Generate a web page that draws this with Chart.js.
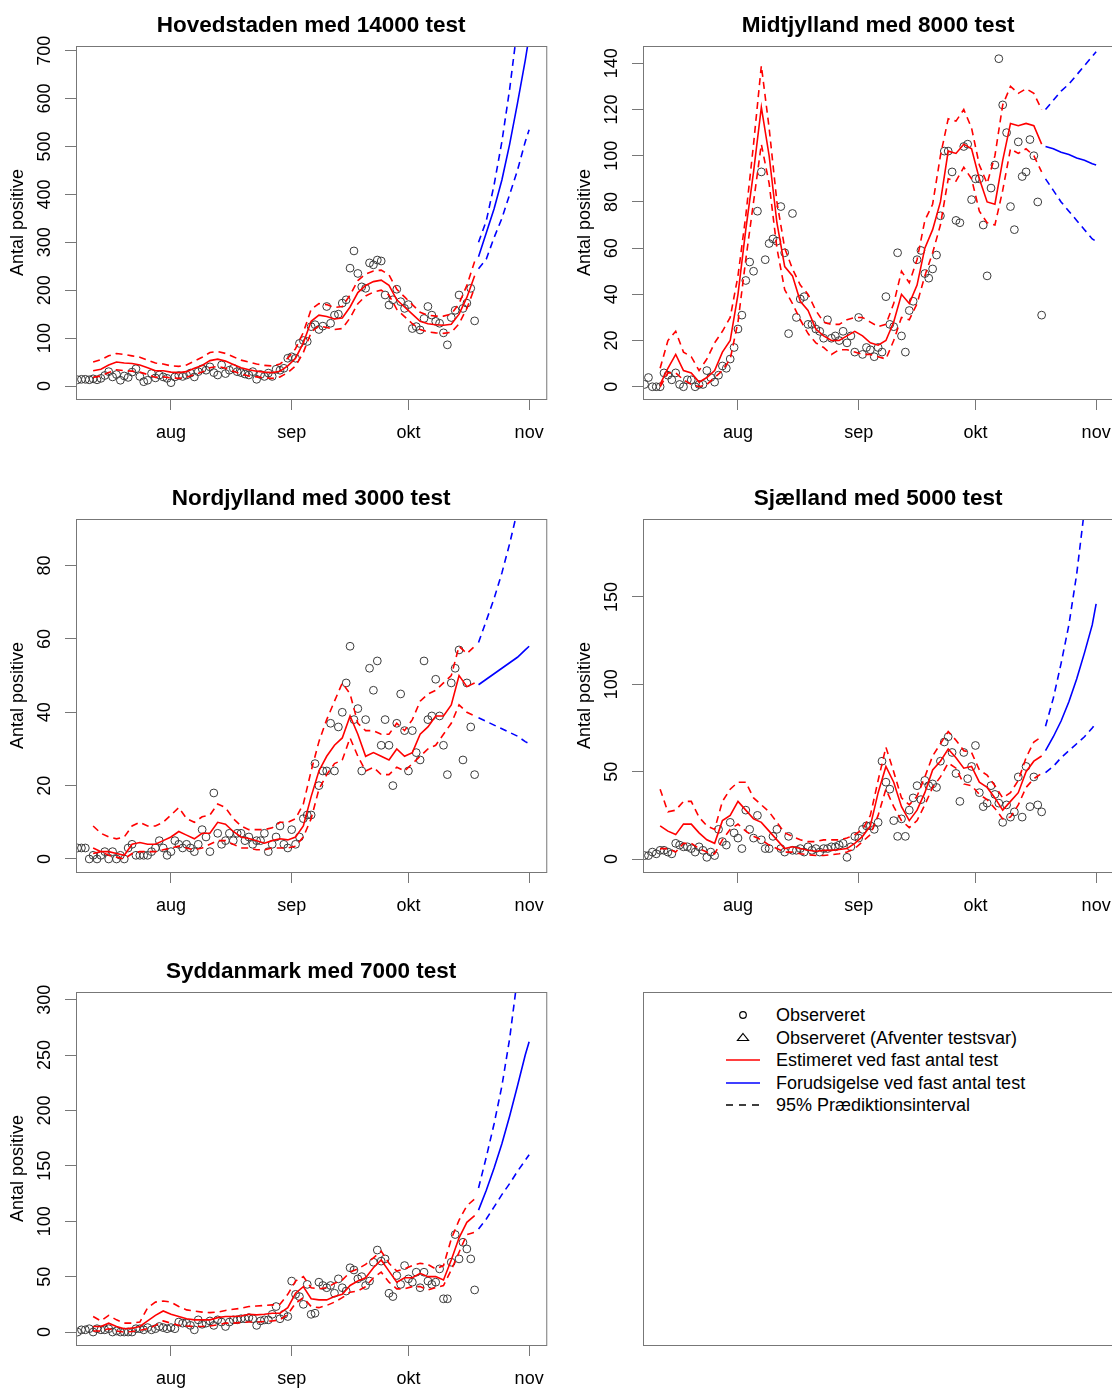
<!DOCTYPE html>
<html>
<head>
<meta charset="utf-8">
<script src="https://cdn.jsdelivr.net/npm/chart.js"></script>
<style>
  html, body { margin: 0; padding: 0; background: #fff; }
  body { position: relative; width: 1112px; height: 1388px; overflow: hidden; font-family: 'Liberation Sans', Arial, sans-serif; }
  canvas { position: absolute; }
  #legendBox { position: absolute; left: 643px; top: 992px; width: 480px; height: 354px; border: 1px solid #777; box-sizing: border-box; }
  .lg-row { position: absolute; left: 0; height: 22px; }
  .lg-row svg { position: absolute; left: 81px; top: 0; }
  .lg-row span { position: absolute; left: 132px; top: 0; font-size: 18px; line-height: 22px; white-space: nowrap; color: #000; }
</style>
</head>
<body>

<canvas id="hoved" width="556" height="473" style="left:0;top:0"></canvas>
<canvas id="midt" width="556" height="473" style="left:567px;top:0"></canvas>
<canvas id="nord" width="556" height="473" style="left:0;top:473px"></canvas>
<canvas id="sjael" width="556" height="473" style="left:567px;top:473px"></canvas>
<canvas id="sydd" width="556" height="473" style="left:0;top:946px"></canvas>

<div id="legendBox">
  <div class="lg-row" style="top:11px">
    <svg width="36" height="22"><circle cx="18" cy="11" r="3.3" fill="none" stroke="#000" stroke-width="1.2"/></svg>
    <span>Observeret</span>
  </div>
  <div class="lg-row" style="top:34px">
    <svg width="36" height="22"><polygon points="18,6.5 23.5,13.5 12.5,13.5" fill="none" stroke="#000" stroke-width="1.2"/></svg>
    <span>Observeret (Afventer testsvar)</span>
  </div>
  <div class="lg-row" style="top:56px">
    <svg width="36" height="22"><line x1="1" y1="11" x2="35" y2="11" stroke="#ff0000" stroke-width="1.5"/></svg>
    <span>Estimeret ved fast antal test</span>
  </div>
  <div class="lg-row" style="top:79px">
    <svg width="36" height="22"><line x1="1" y1="11" x2="35" y2="11" stroke="#0000ff" stroke-width="1.5"/></svg>
    <span>Forudsigelse ved fast antal test</span>
  </div>
  <div class="lg-row" style="top:101px">
    <svg width="36" height="22"><line x1="1" y1="11" x2="35" y2="11" stroke="#000" stroke-width="1.3" stroke-dasharray="7 6"/></svg>
    <span>95% Prædiktionsinterval</span>
  </div>
</div>

<script>
/* ---------------- AXES / DAYS ---------------- */
// days counted from 1 aug (day 0)

const obsStart = -24; // first observation, 8 jul; one point per day up to day 78
const estDays = [-20, -18, -16, -14, -12, -10, -8, -6, -4, -2,
  0, 2, 4, 6, 8, 10, 12, 14, 16, 18,
  20, 22, 24, 26, 28, 30, 32, 34, 36, 38,
  40, 42, 44, 46, 48, 50, 52, 54, 56, 58,
  60, 62, 64, 66, 68, 70, 72, 74, 76, 78];
const predDays = [79, 81, 83, 85, 87, 89, 91, 92];

const monthDays = [0, 31, 61, 92];
const monthLabels = ["aug", "sep", "okt", "nov"];

/* ---------------- HOVEDSTADEN ---------------- */

const hovedObs = [13, 14, 14, 13, 15, 13, 16, 22, 30, 19,
  24, 12, 21, 18, 29, 36, 20, 9, 12, 26,
  17, 23, 19, 16, 7, 19, 22, 20, 23, 27,
  19, 30, 36, 33, 40, 28, 23, 44, 26, 33,
  37, 30, 28, 25, 23, 30, 14, 24, 20, 27,
  20, 35, 33, 37, 58, 61, 58, 89, 95, 93,
  124, 128, 118, 125, 166, 131, 148, 150, 173, 180,
  246, 282, 235, 207, 204, 257, 253, 263, 261, 190,
  169, 180, 202, 176, 162, 170, 120, 124, 117, 141,
  166, 148, 135, 131, 111, 86, 143, 158, 190, 162,
  173, 204, 136];
const hovedEst = [32, 35, 44, 50, 48, 47, 44, 38, 32, 32,
  29, 28, 30, 37, 43, 53, 56, 52, 45, 38,
  34, 31, 29, 28, 31, 42, 58, 90, 135, 148,
  145, 140, 142, 165, 195, 210, 218, 221, 210, 180,
  165, 150, 135, 130, 128, 127, 129, 150, 185, 230];
const hovedHi = [50, 55, 63, 68, 66, 63, 60, 54, 48, 46,
  42, 41, 44, 52, 60, 70, 72, 68, 61, 54,
  50, 46, 43, 42, 46, 58, 78, 112, 160, 172,
  170, 164, 166, 190, 220, 234, 240, 242, 232, 202,
  186, 170, 154, 148, 146, 146, 150, 172, 210, 260];
const hovedLo = [18, 21, 28, 34, 32, 31, 29, 24, 18, 19,
  17, 16, 18, 24, 29, 38, 41, 37, 31, 25,
  21, 19, 17, 16, 19, 28, 42, 70, 112, 126,
  122, 118, 120, 142, 172, 188, 196, 200, 190, 160,
  145, 130, 118, 113, 111, 110, 112, 130, 162, 205];
const hovedPred = [270, 320, 370, 430, 505, 590, 680, 730];
const hovedPredHi = [300, 345, 420, 510, 620, 750, 900, 980];
const hovedPredLo = [245, 265, 310, 350, 400, 450, 510, 535];
const hovedTicks = [0, 100, 200, 300, 400, 500, 600, 700];

/* ---------------- MIDTJYLLAND ---------------- */

const midtObs = [1, 4, 0, 0, 0, 6, 5, 3, 6, 1,
  0, 3, 3, 0, 1, 1, 7, 4, 2, 5,
  9, 8, 12, 17, 25, 31, 46, 54, 50, 76,
  93, 55, 62, 64, 63, 78, 58, 23, 75, 30,
  38, 39, 27, 27, 25, 24, 21, 29, 21, 22,
  20, 24, 19, 22, 15, 30, 14, 17, 16, 13,
  17, 15, 39, 27, 26, 58, 22, 15, 33, 37,
  55, 59, 49, 47, 51, 57, 74, 102, 102, 93,
  72, 71, 104, 105, 81, 90, 90, 70, 48, 86,
  96, 142, 122, 110, 78, 68, 106, 91, 93, 107,
  100, 80, 31];
const midtEst = [1, 8, 14, 7, 6, 2, 4, 7, 15, 20,
  40, 68, 93, 121, 100, 71, 52, 48, 37, 33,
  25, 22, 20, 20, 22, 24, 22, 19, 18, 20,
  28, 40, 36, 44, 60, 68, 80, 102, 101, 105,
  103, 90, 80, 79, 98, 114, 113, 114, 113, 105];
const midtHi = [8, 20, 24, 15, 13, 7, 12, 19, 24, 30,
  48, 74, 105, 139, 112, 80, 60, 51, 44, 40,
  33, 28, 27, 27, 29, 30, 30, 28, 26, 27,
  36, 50, 45, 55, 72, 79, 100, 116, 115, 120,
  112, 96, 88, 100, 122, 130, 127, 129, 127, 120];
const midtLo = [0, 6, 6, 3, 1, 0, 1, 4, 7, 12,
  28, 55, 80, 105, 88, 60, 42, 36, 29, 23,
  19, 17, 14, 16, 16, 15, 14, 14, 13, 12,
  20, 30, 29, 36, 48, 58, 70, 90, 89, 95,
  90, 76, 71, 70, 85, 103, 101, 103, 100, 93];
const midtPred = [104, 103, 101.5, 100.5, 99, 98, 96.5, 96];
const midtPredHi = [120, 124, 128, 131, 135, 139, 143, 145];
const midtPredLo = [90, 85, 80, 76, 72, 68, 64, 63];
const midtTicks = [0, 20, 40, 60, 80, 100, 120, 140];

/* ---------------- NORDJYLLAND ---------------- */

const nordObs = [3, 3, 3, 0, 1, 0, 1, 2, 0, 2,
  0, 1, 0, 3, 4, 1, 1, 1, 1, 2,
  3, 5, 3, 1, 2, 5, 4, 3, 4, 3,
  2, 4, 8, 6, 2, 18, 7, 4, 5, 7,
  5, 7, 7, 5, 6, 4, 5, 5, 7, 2,
  4, 6, 9, 4, 3, 8, 4, 6, 11, 12,
  12, 26, 20, 24, 24, 37, 24, 36, 40, 48,
  58, 38, 41, 24, 38, 52, 46, 54, 31, 38,
  31, 20, 37, 45, 35, 24, 35, 29, 27, 54,
  38, 39, 49, 39, 31, 23, 48, 52, 57, 27,
  48, 36, 23];
const nordEst = [3, 2, 2, 1.5, 1, 4, 4.5, 4, 4, 5,
  6, 7.5, 6.5, 5.5, 7, 7, 10, 9.5, 7.5, 6,
  5.6, 5, 4.3, 5, 5.5, 5.2, 6, 9, 17, 24,
  28, 31, 33, 39, 34, 28, 29, 28, 27, 30,
  28, 29, 34, 36, 39, 39, 42, 50, 47, 48];
const nordHi = [9, 7, 6, 5.5, 6, 9, 10, 9, 9, 10,
  12, 14, 11, 10, 11.5, 12, 15, 14, 11, 9,
  8, 8, 8, 8.5, 10, 10, 11, 15, 24, 32,
  38, 43, 48, 45, 37, 35, 35, 34, 34, 37,
  35, 38, 43, 45, 46, 48, 50, 58, 56, 58];
const nordLo = [1.5, 2, 1, 0.5, 0, 1.5, 2, 2, 2, 2.5,
  3, 3.5, 3, 2.5, 3, 4, 5, 5, 4, 3,
  3, 2.5, 2.5, 3, 3, 3, 3.5, 6, 11, 19,
  23, 26, 27, 33, 28, 24, 25, 23, 23, 25,
  24, 26, 28, 30, 31, 34, 37, 42, 40, 39];
const nordPred = [47.5, 49, 50.5, 52, 53.5, 55, 57, 58];
const nordPredHi = [59, 65, 71, 78, 86, 95, 104, 109];
const nordPredLo = [38.5, 37.5, 36.5, 35.5, 34.5, 33.5, 32, 31.5];
const nordTicks = [0, 20, 40, 60, 80];

/* ---------------- SJÆLLAND ---------------- */

const sjaelObs = [2, 2, 4, 3, 5, 5, 4, 3, 9, 8,
  7, 7, 6, 4, 7, 5, 1, 4, 2, 17,
  10, 8, 21, 15, 12, 6, 28, 17, 12, 25,
  11, 6, 6, 13, 17, 6, 4, 13, 5, 5,
  6, 4, 7, 5, 6, 4, 6, 6, 7, 7,
  8, 9, 1, 7, 13, 12, 17, 19, 19, 17,
  21, 56, 44, 40, 22, 13, 23, 13, 28, 35,
  42, 34, 45, 42, 43, 41, 56, 67, 70, 61,
  49, 33, 61, 46, 53, 65, 38, 30, 32, 42,
  37, 32, 21, 31, 24, 27, 47, 24, 53, 30,
  47, 31, 27];
const sjaelEst = [19, 16, 14, 20, 20, 15, 11, 9, 22, 25,
  33, 28, 23, 21, 16, 11, 6, 7, 6, 5,
  4.5, 5, 5, 5.5, 6, 9, 13, 19, 38, 53,
  44, 30, 22, 28, 38, 51, 56, 63, 58, 52,
  53, 44, 41, 35, 28, 33, 38, 50, 56, 59];
const sjaelHi = [40, 27, 28, 33, 33, 24, 19, 17, 33, 40,
  44, 44, 35, 31, 27, 21, 15, 13, 11, 10,
  10, 11, 11, 11, 12, 14, 17, 25, 45, 64,
  50, 35, 31, 36, 47, 59, 66, 73, 68, 62,
  61, 51, 48, 42, 35, 38, 45, 58, 67, 70];
const sjaelLo = [6, 6, 4, 9, 9, 6, 4, 3, 11, 17,
  20, 16, 13, 11, 8, 6, 4, 4, 3, 2.5,
  2, 2, 2.5, 3, 4, 6, 10, 14, 25, 40,
  30, 22, 18, 22, 31, 41, 47, 55, 52, 43,
  42, 37, 34, 29, 23, 24, 31, 41, 46, 49];
const sjaelPred = [62, 70, 79, 90, 103, 118, 134, 146];
const sjaelPredHi = [76, 92, 112, 134, 163, 200, 245, 270];
const sjaelPredLo = [49.5, 53, 58, 62, 66, 70, 75, 78];
const sjaelTicks = [0, 50, 100, 150];

/* ---------------- SYDDANMARK ---------------- */

const syddObs = [0, 2, 2, 3, 0, 3, 2, 2, 3, 0,
  1, 0, 0, 0, 0, 3, 3, 2, 4, 2,
  3, 5, 4, 3, 4, 3, 9, 8, 8, 6,
  2, 11, 7, 8, 10, 6, 11, 9, 5, 9,
  11, 11, 12, 12, 13, 12, 6, 10, 11, 11,
  16, 23, 12, 16, 14, 46, 34, 32, 25, 43,
  16, 17, 45, 42, 40, 42, 35, 48, 40, 37,
  58, 56, 48, 50, 42, 46, 63, 74, 64, 66,
  35, 32, 51, 43, 60, 48, 45, 54, 40, 54,
  46, 43, 45, 57, 30, 30, 63, 88, 66, 81,
  75, 66, 38];
const syddEst = [5, 5, 8, 5, 3, 3.5, 5, 10, 15, 19,
  16, 14, 12, 11, 11, 11, 13, 14, 14, 14.5,
  16, 15.5, 16, 17, 17, 22, 35, 41, 30, 29,
  29, 32, 34, 42, 46, 49, 58, 65, 55, 45,
  49, 49, 53, 50, 50, 47, 65, 85, 99, 105];
const syddHi = [14, 10, 15, 11, 8, 8, 9, 22, 27, 28,
  27, 23, 20, 19, 18, 17.5, 18, 19.5, 20.5, 21.5,
  23, 23.5, 24, 24.5, 25, 34, 46, 50, 40, 39,
  40, 44, 47, 54, 57, 61, 67, 73, 62, 55,
  57, 60, 62, 61, 57, 60, 84, 101, 114, 120];
const syddLo = [1, 1, 3, 1, 0, 0.5, 1.5, 3, 6, 10,
  8, 6, 5.5, 5, 5, 5.5, 6.5, 8, 8, 8.5,
  9, 9, 9.5, 10, 11, 16, 26, 31, 23, 22,
  24, 27, 31, 36, 37, 41, 49, 54, 45, 39,
  39, 41, 41, 38, 40, 42, 56, 72, 88, 90];
const syddPred = [110, 128, 148, 170, 195, 222, 250, 262];
const syddPredHi = [130, 158, 188, 222, 265, 320, 385, 420];
const syddPredLo = [93, 102, 113, 124, 134, 145, 155, 160];
const syddTicks = [0, 50, 100, 150, 200, 250, 300];

/* ---------------- PANELS ---------------- */

const panels = [
  { id: "hoved", title: "Hovedstaden med 14000 test", obs: hovedObs, est: hovedEst, lo: hovedLo, hi: hovedHi,
    pred: hovedPred, predLo: hovedPredLo, predHi: hovedPredHi, ticks: hovedTicks, yMin: -27.1, yMax: 709.8 },
  { id: "midt", title: "Midtjylland med 8000 test", obs: midtObs, est: midtEst, lo: midtLo, hi: midtHi,
    pred: midtPred, predLo: midtPredLo, predHi: midtPredHi, ticks: midtTicks, yMin: -5.3, yMax: 147.5 },
  { id: "nord", title: "Nordjylland med 3000 test", obs: nordObs, est: nordEst, lo: nordLo, hi: nordHi,
    pred: nordPred, predLo: nordPredLo, predHi: nordPredHi, ticks: nordTicks, yMin: -3.55, yMax: 92.7 },
  { id: "sjael", title: "Sjælland med 5000 test", obs: sjaelObs, est: sjaelEst, lo: sjaelLo, hi: sjaelHi,
    pred: sjaelPred, predLo: sjaelPredLo, predHi: sjaelPredHi, ticks: sjaelTicks, yMin: -7.4, yMax: 194.6 },
  { id: "sydd", title: "Syddanmark med 7000 test", obs: syddObs, est: syddEst, lo: syddLo, hi: syddHi,
    pred: syddPred, predLo: syddPredLo, predHi: syddPredHi, ticks: syddTicks, yMin: -11.7, yMax: 306.9 }
];

const FONT = "'Liberation Sans', Arial, sans-serif";
const RED = "#ff0000";
const BLUE = "#0000ff";
const FRAME = "#777";

Chart.defaults.font.family = FONT;
Chart.defaults.color = "#000";

/* ---------------- HELPERS ---------------- */

function lineSet(days, values, color, dashed) {
  return {
    data: values.map((v, i) => ({ x: days[i], y: v })),
    showLine: true,
    borderColor: color,
    borderWidth: 1.6,
    borderDash: dashed ? [7, 5] : [],
    pointRadius: 0,
    fill: false,
    tension: 0
  };
}

// R style frame + rotated y tick labels
const framePlugin = {
  id: "frame",
  afterDraw(chart) {
    const { ctx, chartArea: a, scales: { y } } = chart;
    ctx.save();
    ctx.strokeStyle = FRAME;
    ctx.lineWidth = 1;
    ctx.strokeRect(a.left + 0.5, a.top + 0.5, a.right - a.left, a.bottom - a.top);

    ctx.font = "18px " + FONT;
    ctx.fillStyle = "#000";
    ctx.textAlign = "center";
    ctx.textBaseline = "middle";
    y.ticks.forEach(t => {
      ctx.save();
      ctx.translate(a.left - 30.5, y.getPixelForValue(t.value));
      ctx.rotate(-Math.PI / 2);
      ctx.fillText(String(t.value), 0, 0);
      ctx.restore();
    });
    ctx.restore();
  }
};

/* ---------------- CHARTS ---------------- */

function drawPanel(p) {
  const obsPts = p.obs.map((v, i) => ({ x: obsStart + i, y: v }));

  new Chart(document.getElementById(p.id), {
    type: "scatter",
    data: {
      datasets: [
        lineSet(estDays, p.est, RED, false),
        lineSet(estDays, p.lo, RED, true),
        lineSet(estDays, p.hi, RED, true),
        lineSet(predDays, p.pred, BLUE, false),
        lineSet(predDays, p.predLo, BLUE, true),
        lineSet(predDays, p.predHi, BLUE, true),
        {
          data: obsPts,
          showLine: false,
          pointStyle: "circle",
          pointRadius: 3.9,
          pointBorderWidth: 1,
          pointBorderColor: "#3a3a3a",
          pointBackgroundColor: "rgba(0,0,0,0)"
        }
      ]
    },
    options: {
      responsive: false,
      animation: false,
      devicePixelRatio: 1,
      layout: { padding: { left: 0, right: 9, top: 0, bottom: 0 } },
      plugins: {
        legend: { display: false },
        tooltip: { enabled: false },
        title: {
          display: true,
          text: p.title,
          fullSize: false,
          color: "#000",
          font: { size: 22.5, weight: "bold", lineHeight: 1.2 },
          padding: { top: 12.6, bottom: 6.4 }
        }
      },
      scales: {
        x: {
          type: "linear",
          min: -24.4,
          max: 96.4,
          afterBuildTicks: s => { s.ticks = monthDays.map(v => ({ value: v })); },
          afterFit: s => { s.height = 74; },
          ticks: {
            autoSkip: false,
            maxRotation: 0,
            padding: 12,
            font: { size: 18 },
            color: "#000",
            callback: v => monthLabels[monthDays.indexOf(v)]
          },
          grid: { drawOnChartArea: false, tickLength: 11, color: FRAME },
          border: { display: false }
        },
        y: {
          min: p.yMin,
          max: p.yMax,
          afterBuildTicks: s => { s.ticks = p.ticks.map(v => ({ value: v })); },
          afterFit: s => { s.width = 76; },
          ticks: { display: false },
          grid: { drawOnChartArea: false, tickLength: 11, color: FRAME },
          border: { display: false },
          title: {
            display: true,
            text: "Antal positive",
            color: "#000",
            font: { size: 18, lineHeight: 1.2 },
            padding: { top: 7.2, bottom: 0 }
          }
        }
      }
    },
    plugins: [framePlugin]
  });
}

panels.forEach(drawPanel);
</script>
</body>
</html>
